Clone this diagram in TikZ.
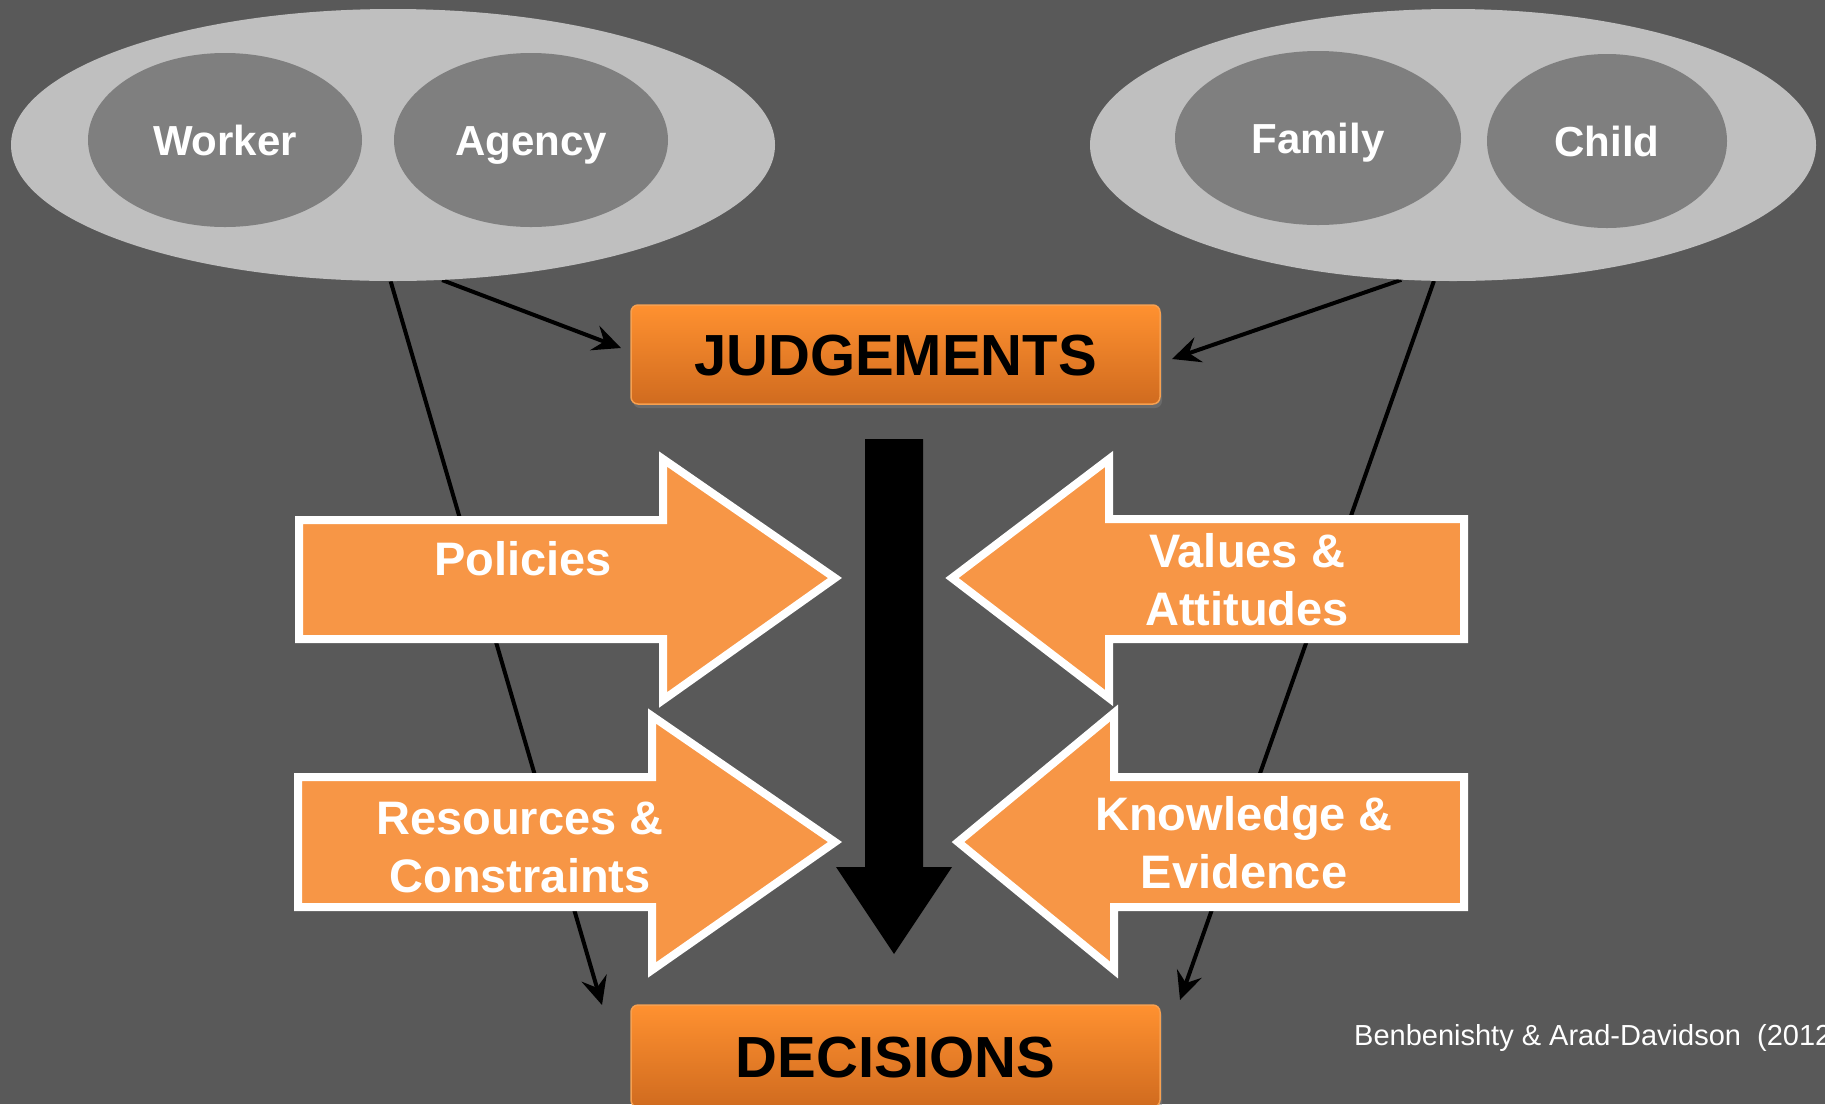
\documentclass[tikz,border=0pt]{standalone}
\usepackage{fontspec}
\setmainfont{Liberation Sans}
\usetikzlibrary{arrows.meta,shapes.geometric,shadows,calc}
\pgfdeclarelayer{bg}
\pgfdeclarelayer{lines}
\pgfsetlayers{bg,lines,main}
\definecolor{slate}{HTML}{595959}
\definecolor{outerblob}{HTML}{BFBFBF}
\definecolor{innerblob}{HTML}{7F7F7F}
\definecolor{boxtop}{HTML}{FF9130}
\definecolor{boxbot}{HTML}{D06B1F}
\definecolor{boxrim}{HTML}{F7A050}
\definecolor{arrowfill}{HTML}{F79646}
\tikzset{
  outerell/.style={ellipse, fill=outerblob, draw=none, inner sep=0pt},
  innerell/.style={ellipse, fill=innerblob, draw=none, inner sep=0pt,
    minimum height=174pt, text=white, text height=30pt, text depth=-8pt,
    font=\fontsize{42}{46}\selectfont\bfseries},
  stagebox/.style={rectangle, rounded corners=7pt, draw=boxrim, line width=1.5pt,
    top color=boxtop, bottom color=boxbot, minimum width=529pt,
    text height=42pt, text depth=0pt,
    font=\fontsize{58}{60}\selectfont\bfseries, text=black,
    drop shadow={opacity=0.45, shadow xshift=2pt, shadow yshift=-4pt}},
  bigarrow/.style={fill=arrowfill, draw=white, line width=8pt, line join=miter,
    drop shadow={opacity=0.4, shadow xshift=3pt, shadow yshift=-3pt}},
  arrowtext/.style={text=white, align=center, font=\fontsize{47}{58}\selectfont\bfseries},
  link/.style={draw=black, line width=4pt, -{Stealth[length=28pt,width=26pt,inset=10pt]}},
}
\begin{document}
\begin{tikzpicture}[x=1pt,y=-1pt]
\useasboundingbox (0,0) rectangle (1825,1104);
\begin{pgfonlayer}{bg}
  \fill[slate] (0,0) rectangle (1825,1104);
\end{pgfonlayer}

% participant groups
\node[outerell, minimum width=764pt, minimum height=272pt] (L) at (393,145) {};
\node[outerell, minimum width=726pt, minimum height=272pt] (R) at (1453,145) {};
\node[innerell, minimum width=274pt] (worker) at (225,140) {Worker};
\node[innerell, minimum width=274pt] (agency) at (531,140) {Agency};
\node[innerell, minimum width=286pt] (family) at (1318,138) {Family};
\node[innerell, minimum width=240pt] (child)  at (1607,141) {Child};

% stages
\node[stagebox, minimum height=99pt] (J) at (895.5,354.5) {JUDGEMENTS};
\node[stagebox, minimum height=102pt] (D) at (895.5,1056) {DECISIONS};

% free ends of the links
\coordinate (jl) at (621,348);
\coordinate (jr) at (1172,359);
\coordinate (dl) at (602,1005);
\coordinate (dr) at (1180,1000);

\begin{pgfonlayer}{lines}
  \draw[link] (L.-91.7) -- (dl);
  \draw[link] (L.-70.7) -- (jl);
  \draw[link] (R.-111.6) -- (jr);
  \draw[link] (R.-98.8) -- (dr);
\end{pgfonlayer}

% influence arrows
\path[bigarrow] (299,520) -- (663,520) -- (663,459) -- (835,578) -- (663,700) -- (663,639) -- (299,639) -- cycle;
\path[bigarrow] (298,777) -- (652,777) -- (652,716) -- (835,842) -- (652,970) -- (652,907) -- (298,907) -- cycle;
\path[bigarrow] (1464,519) -- (1109,519) -- (1109,459) -- (952,578) -- (1109,698) -- (1109,639) -- (1464,639) -- cycle;
\path[bigarrow] (1464,777) -- (1114,777) -- (1114,713) -- (958,842) -- (1114,970) -- (1114,907) -- (1464,907) -- cycle;

\node[arrowtext] (policies) at (523,559) {Policies};
\node[arrowtext] (resources) at (520,847) {Resources \&\\Constraints};
\node[arrowtext] (values) at (1247,580) {Values \&\\Attitudes};
\node[arrowtext] (knowledge) at (1244,843) {Knowledge \&\\Evidence};

% central flow from judgements to decisions
\fill[black] (865,439) -- (923,439) -- (923,867) -- (952,867) -- (894,954) -- (836,867) -- (865,867) -- cycle;

% source
\node[anchor=base west, text=white, font=\fontsize{29}{32}\selectfont, inner sep=0pt] (cite)
  at (1354,1045) {Benbenishty \& Arad-Davidson\ \ (2012)};
\end{tikzpicture}
\end{document}
